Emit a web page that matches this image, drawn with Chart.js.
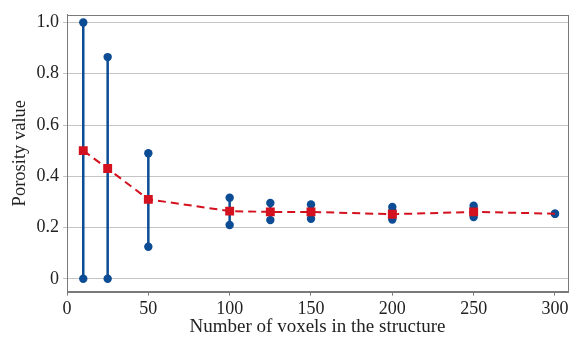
<!DOCTYPE html>
<html>
<head>
<meta charset="utf-8">
<script src="https://cdn.jsdelivr.net/npm/chart.js@4.4.1/dist/chart.umd.min.js"></script>
<style>
    html, body { margin: 0; padding: 0; background: #fff; }
    #wrap { width: 583px; height: 338px; }
</style>
</head>
<body>
<div id="wrap"><canvas id="porosityChart"></canvas></div>
<script>
// structure size (number of voxels)
var voxels = [10, 25, 50, 100, 125, 150, 200, 250, 300];
// smallest / largest porosity found for each size
var minPorosity = [0, 0, 0.125, 0.21, 0.229, 0.234, 0.231, 0.241, 0.254];
var maxPorosity = [1.0, 0.865, 0.49, 0.316, 0.296, 0.29, 0.28, 0.285, 0.254];
// extra sample values sitting between min and max
var midVoxels = [200, 200, 250, 250];
var midPorosity = [0.245, 0.265, 0.255, 0.272];
// mean porosity
var meanPorosity = [0.5, 0.43, 0.31, 0.264, 0.261, 0.261, 0.252, 0.261, 0.254];

var xTicks = [0, 50, 100, 150, 200, 250, 300];
var yTicks = [0, 0.2, 0.4, 0.6, 0.8, 1.0];

var blue = '#0b4c94';
var red = '#d4111e';
var serif = "'Liberation Serif', 'DejaVu Serif', serif";

// range segments, broken by null
var rangeData = [];
var dotData = [];
for (var i = 0; i < voxels.length; i++) {
    rangeData.push({x: voxels[i], y: minPorosity[i]});
    rangeData.push({x: voxels[i], y: maxPorosity[i]});
    rangeData.push({x: voxels[i], y: null});
    dotData.push({x: voxels[i], y: minPorosity[i]});
    dotData.push({x: voxels[i], y: maxPorosity[i]});
}
for (var j = 0; j < midVoxels.length; j++) {
    dotData.push({x: midVoxels[j], y: midPorosity[j]});
}
var meanData = voxels.map(function (v, k) {
    return {x: v, y: meanPorosity[k]};
});

// gray box round the plot
var frame = {
    id: 'frame',
    afterDatasetsDraw: function (chart) {
        var a = chart.chartArea;
        var c = chart.ctx;
        c.save();
        c.strokeStyle = '#7a7a7a';
        c.lineWidth = 1;
        c.strokeRect(Math.round(a.left) + 0.5, Math.round(a.top) + 0.5,
            Math.round(a.right - a.left), Math.round(a.bottom - a.top));
        c.restore();
    }
};

var ctx = document.getElementById('porosityChart').getContext('2d');
var chart = new Chart(ctx, {
    type: 'scatter',
    data: {
        datasets: [{
            data: meanData,
            showLine: true,
            borderColor: red,
            borderWidth: 2,
            borderDash: [8, 5],
            pointStyle: 'rect',
            pointRadius: function (c) { return c.raw && c.raw.x === 300 ? 0 : 6.3; },
            backgroundColor: red,
            pointBorderWidth: 0,
            order: 1
        }, {
            data: dotData,
            showLine: false,
            pointRadius: 4.2,
            backgroundColor: blue,
            pointBorderWidth: 0,
            order: 2
        }, {
            data: rangeData,
            showLine: true,
            spanGaps: false,
            borderColor: blue,
            borderWidth: 2.5,
            pointRadius: 0,
            order: 3
        }]
    },
    options: {
        responsive: true,
        maintainAspectRatio: false,
        animation: false,
        layout: { padding: { top: 10, right: 15, left: 9, bottom: 0 } },
        plugins: {
            legend: { display: false },
            tooltip: { enabled: false }
        },
        scales: {
            x: {
                type: 'linear',
                min: 0,
                max: 308,
                afterBuildTicks: function (s) { s.ticks = xTicks.map(function (v) { return {value: v}; }); },
                ticks: { font: { family: serif, size: 18 }, color: '#222', padding: 3, maxRotation: 0 },
                grid: { drawOnChartArea: false, drawTicks: true, tickLength: 4, color: '#7a7a7a' },
                border: { color: '#7a7a7a' },
                title: {
                    display: true,
                    text: 'Number of voxels in the structure',
                    font: { family: serif, size: 19 },
                    color: '#222',
                    padding: { top: -8, bottom: 0 }
                }
            },
            y: {
                min: -0.05,
                max: 1.03,
                afterBuildTicks: function (s) { s.ticks = yTicks.map(function (v) { return {value: v}; }); },
                afterFit: function (s) { s.width = 58; },
                ticks: {
                    font: { family: serif, size: 18 },
                    color: '#222',
                    padding: 4,
                    callback: function (v) { return v === 0 ? '0' : v.toFixed(1); }
                },
                grid: { color: '#c4c4c4', tickLength: 4 },
                border: { color: '#7a7a7a' },
                title: {
                    display: true,
                    text: 'Porosity value',
                    font: { family: serif, size: 18.5 },
                    color: '#222',
                    padding: { top: 0, bottom: 0 }
                }
            }
        }
    },
    plugins: [frame]
});
</script>
</body>
</html>
